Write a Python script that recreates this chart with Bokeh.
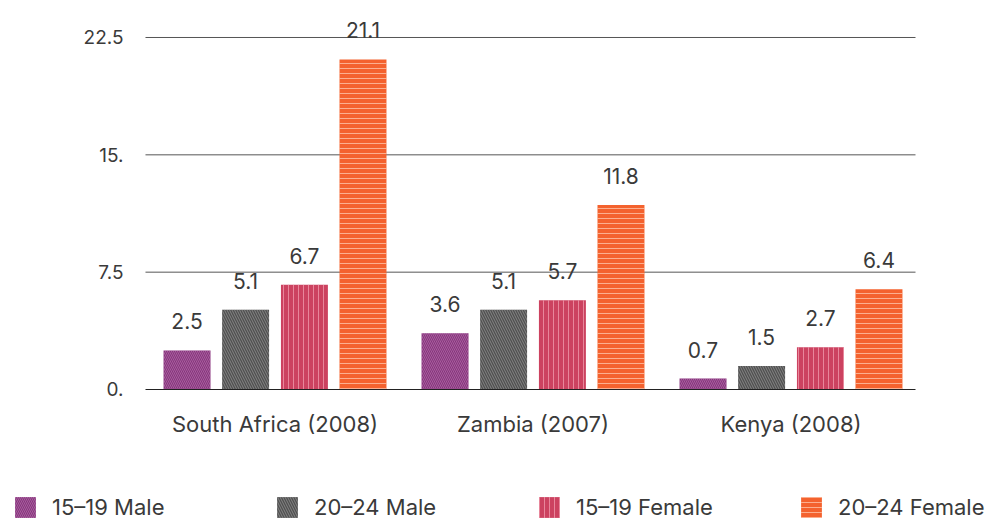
from bokeh.plotting import figure
from bokeh.models import ColumnDataSource, Range1d, FixedTicker, Legend, LegendItem
from bokeh.core.properties import value
from bokeh.embed import file_html
from bokeh.resources import INLINE

countries = ["South Africa (2008)", "Zambia (2007)", "Kenya (2008)"]
series = ["15\u201319 Male", "20\u201324 Male", "15\u201319 Female", "20\u201324 Female"]
male_15_19 = [2.5, 3.6, 0.7]
male_20_24 = [5.1, 5.1, 1.5]
female_15_19 = [6.7, 5.7, 2.7]
female_20_24 = [21.1, 11.8, 6.4]
y_ticks = [0, 7.5, 15, 22.5]
y_tick_labels = ["0.", "7.5", "15.", "22.5"]

values = [male_15_19, male_20_24, female_15_19, female_20_24]
colors = ["#86357C", "#505050", "#CC4260", "#F4622E"]
hatches = ["\\", "\\", "|", "-"]
hatch_colors = ["#D99BD0", "#9A9A9A", "#F4A3B4", "#FFD0B8"]
hatch_alphas = [0.4, 0.7, 0.7, 0.7]
hatch_scales = [4, 5, 5, 5]
offsets = [-0.341, -0.114, 0.114, 0.341]
FONT = "Inter"
TXT = "#3a3a3a"

# plotting area in data units (frame covers the whole figure)
X_LO, X_HI = -0.502, 2.4826
p = figure(width=1000, height=520, output_backend="svg", toolbar_location=None,
           x_range=Range1d(-1.064, 2.812), y_range=Range1d(-8.374, 24.865),
           min_border_left=0, min_border_right=0, min_border_top=0,
           min_border_bottom=0)
p.outline_line_color = None
p.background_fill_color = "white"
p.border_fill_color = "white"
p.xgrid.grid_line_color = None
p.ygrid.grid_line_color = None

# horizontal grid lines limited to the plotting area
grid_src = ColumnDataSource(dict(y=y_ticks[1:], x0=[X_LO] * 3, x1=[X_HI] * 3))
p.segment(x0="x0", x1="x1", y0="y", y1="y", source=grid_src,
          line_color="#555555", line_width=1)

p.yaxis.fixed_location = X_LO
p.yaxis.ticker = FixedTicker(ticks=y_ticks)
p.yaxis.major_label_overrides = {t: l for t, l in zip(y_ticks, y_tick_labels)}
p.yaxis.axis_line_color = None
p.yaxis.major_tick_line_color = None
p.yaxis.minor_tick_line_color = None
p.yaxis.major_tick_out = 0
p.yaxis.major_tick_in = 0
p.yaxis.major_label_text_font = FONT
p.yaxis.major_label_text_font_size = "19px"
p.yaxis.major_label_text_color = TXT
p.yaxis.major_label_standoff = 22

p.xaxis.fixed_location = 0
p.xaxis.bounds = (X_LO, X_HI)
p.xaxis.ticker = FixedTicker(ticks=list(range(len(countries))))
p.xaxis.major_label_overrides = {i: c for i, c in enumerate(countries)}
p.xaxis.axis_line_color = "#222222"
p.xaxis.axis_line_width = 1
p.xaxis.major_tick_line_color = None
p.xaxis.minor_tick_line_color = None
p.xaxis.major_tick_out = 0
p.xaxis.major_tick_in = 0
p.xaxis.major_label_text_font = FONT
p.xaxis.major_label_text_font_size = "22px"
p.xaxis.major_label_text_color = TXT
p.xaxis.major_label_standoff = 22

items = []
for k in range(4):
    xs = [i + offsets[k] for i in range(len(countries))]
    src = ColumnDataSource(dict(x=xs, top=values[k],
                                lab=[str(v) for v in values[k]]))
    r = p.vbar(x="x", top="top", width=0.182, source=src,
               fill_color=colors[k], line_color=None,
               hatch_pattern=hatches[k], hatch_color=hatch_colors[k],
               hatch_alpha=hatch_alphas[k], hatch_weight=1,
               hatch_scale=hatch_scales[k])
    p.text(x="x", y="top", text="lab", source=src, text_align="center",
           text_baseline="middle", y_offset=-29, text_font_size="21px",
           text_color=TXT, text_font=value(FONT))
    items.append(LegendItem(label=series[k], renderers=[r], index=0))

legend = Legend(items=items, orientation="horizontal", location=(12, 0),
                glyph_width=26, glyph_height=26, label_standoff=14,
                label_width=222, spacing=0, padding=0, margin=0,
                border_line_color=None, background_fill_alpha=0,
                label_text_font=FONT, label_text_font_size="22px",
                label_text_color=TXT)
p.add_layout(legend, "center")

open("out.html", "w").write(file_html(p, INLINE))
